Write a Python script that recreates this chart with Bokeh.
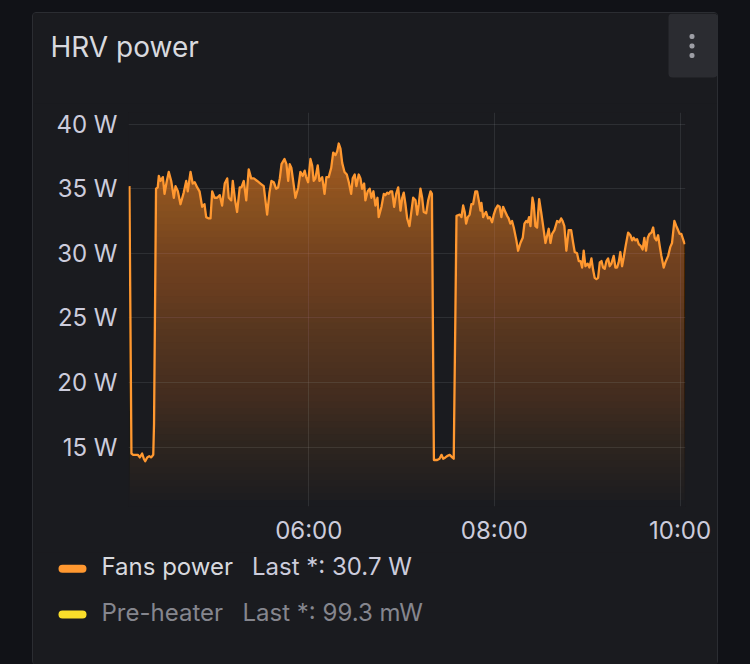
import numpy as np
import pandas as pd
from bokeh.plotting import figure
from bokeh.layouts import column
from bokeh.models import (FixedTicker, DatetimeTickFormatter, PrintfTickFormatter,
                          Label, BoxAnnotation, Range1d)
from bokeh.embed import file_html
from bokeh.resources import INLINE

# ---------------- data ----------------
BASE_DAY = "2024-03-10"
START = "04:00"
# minutes after 04:00
fans_minutes = [
    4.1, 5.4, 6.5, 8.0, 9.5, 10.8, 12.3, 13.4, 14.3, 15.6, 16.9, 18.2, 19.5, 20.0, 21.3,
    22.4, 23.1, 24.2, 25.7, 26.8, 28.1, 29.5, 31.1, 32.8, 33.9, 35.4, 37.1, 39.2, 40.8, 41.8,
    43.6, 45.0, 46.3, 47.9, 49.4, 51.1, 52.6, 53.7, 55.4, 56.5, 57.6, 59.1, 60.8, 62.5, 64.0,
    65.7, 67.3, 68.3, 69.9, 70.9, 72.4, 73.7, 75.4, 76.5, 78.0, 79.6, 81.2, 82.8, 84.5, 86.7,
    88.8, 90.9, 93.1, 94.6, 95.9, 97.4, 98.9, 100.2, 101.3, 102.4, 104.3, 105.6, 106.7, 107.7,
    108.8, 109.7, 111.4, 113.2, 114.6, 116.1, 117.4, 118.3, 119.6, 121.1, 122.2, 123.2, 124.3,
    125.8, 126.9, 128.7, 130.2, 131.4, 132.9, 134.5, 135.8, 137.3, 138.4, 139.4, 140.5, 141.6,
    143.1, 144.6, 145.9, 147.4, 148.4, 149.7, 150.8, 152.3, 153.4, 154.5, 155.8, 156.6, 158.1,
    159.4, 160.5, 161.8, 163.1, 164.4, 165.2, 167.0, 168.5, 169.6, 170.7, 171.7, 172.8, 173.9,
    175.2, 176.5, 177.8, 179.3, 180.4, 181.4, 182.5, 183.6, 185.1, 186.4, 187.5, 189.0, 190.1,
    191.1, 192.2, 193.3, 194.3, 195.9, 197.2, 198.7, 199.6, 200.9, 203.0, 204.5, 205.8, 206.9,
    208.3, 209.4, 211.1, 212.7, 213.7, 215.5, 217.6, 218.7, 219.8, 220.8, 221.7, 222.8, 224.0,
    225.1, 226.2, 227.7, 228.8, 229.9, 231.0, 231.6, 232.7, 233.5, 234.6, 235.9, 237.0, 238.5,
    239.6, 240.7, 242.1, 243.4, 244.5, 245.6, 246.7, 248.2, 249.2, 250.3, 251.4, 252.5, 254.2,
    255.3, 256.8, 258.3, 259.4, 260.5, 261.5, 262.4, 263.3, 264.6, 265.4, 266.5, 267.6, 268.9,
    270.2, 271.5, 273.0, 275.1, 276.2, 277.3, 278.8, 280.5, 282.0, 283.1, 284.1, 285.2, 286.5,
    288.0, 289.6, 290.9, 291.9, 293.4, 294.5, 295.6, 296.7, 297.7, 298.8, 300.3, 301.4, 302.7,
    303.8, 304.8, 305.9, 307.0, 308.1, 309.2, 310.2, 311.3, 312.4, 313.5, 314.5, 315.6, 317.1,
    318.2, 319.3, 320.3, 321.4, 322.5, 323.6, 324.7, 326.4, 327.9, 329.0, 330.0, 331.1, 332.2,
    333.3, 334.4, 335.8, 336.9, 338.0, 339.1, 340.2, 341.5, 342.6, 343.6, 344.7, 345.8, 346.8,
    347.9, 349.4, 350.5, 352.3, 353.7, 354.8, 356.3, 357.6, 358.7, 359.7, 360.8, 361.9, 363.0,
]
fans_watts = [
    35.2, 14.5, 14.4, 14.4, 14.4, 14.2, 14.5, 14.1, 13.9, 14.2, 14.3, 14.2, 14.4, 16.8, 35.0,
    35.1, 36.0, 35.6, 35.9, 34.6, 35.5, 36.3, 35.6, 34.3, 35.2, 34.8, 33.8, 34.7, 35.6, 34.8,
    36.3, 35.4, 35.5, 35.1, 34.8, 33.6, 33.8, 32.8, 32.7, 32.7, 34.8, 34.3, 34.3, 34.5, 33.7,
    35.4, 35.8, 34.3, 34.1, 35.6, 34.1, 33.2, 35.1, 35.1, 35.6, 34.1, 36.5, 35.8, 35.8, 35.6,
    35.4, 35.2, 33.0, 34.7, 35.6, 35.5, 35.0, 35.1, 35.8, 36.9, 37.3, 36.9, 35.6, 36.9,
    36.6, 35.8, 34.3, 35.1, 36.3, 36.0, 36.4, 35.9, 35.5, 37.3, 36.8, 35.6, 35.8,
    36.8, 35.6, 35.9, 34.6, 35.9, 35.9, 36.6, 37.8, 37.6, 37.9, 38.5, 38.1, 37.0,
    36.3, 36.1, 35.5, 34.6, 35.8, 36.1, 35.2, 36.1, 35.8, 35.0, 35.4, 34.1, 34.8,
    35.0, 34.3, 34.8, 33.7, 34.3, 32.8, 33.6, 34.6, 34.5, 34.7, 34.6, 34.8, 34.8,
    33.6, 34.6, 35.1, 33.3, 34.3, 34.7, 33.8, 32.7, 32.1, 33.3, 34.3, 34.1, 33.0,
    33.8, 35.0, 34.3, 33.2, 33.1, 34.1, 34.8, 34.6, 14.0, 14.0, 14.1, 14.4, 14.1,
    14.2, 14.3, 14.4, 14.2, 14.1, 32.9, 33.0, 32.8, 33.7, 33.2, 32.3, 32.8, 33.0,
    33.8, 33.8, 34.8, 34.8, 34.1, 33.3, 33.9, 32.8, 33.0, 33.2, 32.7, 32.8, 32.4,
    33.0, 33.4, 33.7, 33.6, 32.8, 33.6, 33.3, 32.9, 32.7, 32.3, 32.5, 32.0, 31.0,
    30.2, 30.8, 31.2, 32.3, 32.5, 32.4, 32.8, 32.1, 34.3, 33.8, 32.1, 32.0, 34.2,
    33.2, 32.1, 30.8, 31.9, 30.8, 31.5, 31.8, 32.5, 32.4, 32.7, 32.5, 32.1, 30.2,
    31.8, 31.8, 30.8, 30.1, 30.0, 29.4, 29.4, 28.9, 30.2, 29.0, 29.2, 28.9, 29.6,
    28.7, 28.1, 28.0, 28.1, 29.3, 29.4, 28.9, 28.8, 29.4, 29.6, 29.0, 29.2, 29.8,
    28.9, 28.9, 29.3, 30.1, 29.0, 29.7, 30.5, 31.6, 31.4, 31.0, 31.2, 31.0, 31.1,
    30.7, 30.6, 30.3, 31.2, 30.2, 31.2, 31.5, 31.6, 32.0, 31.2, 31.0, 31.4, 30.6,
    29.8, 28.9, 29.3, 29.8, 30.5, 30.8, 32.5, 32.1, 31.8, 31.5, 31.5, 31.1, 30.7,
]
preheater_last_mw = 99.3

series_names = ["Fans power", "Pre-heater"]
series_colors = ["#FF9830", "#FADE2A"]
y_ticks = [15, 20, 25, 30, 35, 40]
x_ticks = ["06:00", "08:00", "10:00"]
x_window = ("04:03:30", "10:03:30")
y_window = (10.4, 40.9)
title_text = "HRV power"

# ---------------- style ----------------
OUTER_BG = "#111217"
PANEL_BG = "#1a1b1f"
PANEL_BORDER = "#2b2d32"
TEXT = "#ccccdc"
TEXT_BRIGHT = "#d8d9de"
TEXT_DIM = "#85868e"
GRID = "#cccedc"
FONT = "Inter"
PANEL_W = 684
BASE_SHIFT = 0.4  # Label baseline correction, in em


def ts(hm):
    return pd.Timestamp(f"{BASE_DAY} {hm}")


def plain_fig(w, h):
    f = figure(width=w, height=h, output_backend="svg", toolbar_location=None,
               x_range=Range1d(0, w), y_range=Range1d(h, 0),
               x_axis_location=None, y_axis_location=None,
               min_border=0, background_fill_color=PANEL_BG,
               border_fill_color=PANEL_BG, outline_line_color=None)
    f.grid.visible = False
    return f


def box(l, r, t_, b, color, radius=0):
    return BoxAnnotation(left=l, right=r, top=t_, bottom=b, fill_color=color,
                         fill_alpha=1, line_color=None, border_radius=radius)


def text(x, baseline, s, size, color):
    return Label(x=x, y=baseline - BASE_SHIFT * size, text=s, text_font=FONT,
                 text_font_size=f"{size}px", text_color=color,
                 text_baseline="alphabetic")


# ---------------- header: title + menu button ----------------
HEAD_H = 90
head = plain_fig(PANEL_W, HEAD_H)
head.add_layout(text(17, 45, title_text, 28, TEXT_BRIGHT))
head.add_layout(box(635, 684, 0, 64, "#2b2c31", 4))
for dy in (23, 32.5, 42):
    head.add_layout(box(656, 661, dy - 2.5, dy + 2.5, "#9d9ea5", 2))

# ---------------- chart ----------------
t = ts(START) + pd.to_timedelta(np.array(fans_minutes), unit="m")
v = np.array(fans_watts)

CH_H = 449
p = figure(width=PANEL_W, height=CH_H, x_axis_type="datetime",
           output_backend="svg", toolbar_location=None,
           x_range=Range1d(ts(x_window[0]), ts(x_window[1])),
           y_range=Range1d(*y_window),
           min_border_left=95, min_border_right=32,
           min_border_top=9, min_border_bottom=46,
           background_fill_color=PANEL_BG, border_fill_color=PANEL_BG,
           outline_line_color=None)

# gradient fill (opacity rising with height), built from stacked translucent layers
lo, hi = y_window
N = 60
TMAX = 0.72
prev = 0.0
for i in range(1, N):
    a = lo + (hi - lo) * i / N
    T = TMAX * (i + 0.5) / N
    alpha = 1 - (1 - T) / (1 - prev)
    prev = T
    p.varea(x=t, y1=a, y2=np.maximum(v, a), fill_color=series_colors[0],
            fill_alpha=alpha)

p.line(t, v, line_color=series_colors[0], line_width=2.3, line_join="round")

p.xaxis.ticker = FixedTicker(ticks=[ts(s).value / 1e6 for s in x_ticks])
p.xaxis.formatter = DatetimeTickFormatter(minutes="%H:%M", hourmin="%H:%M",
                                          hours="%H:%M", days="%H:%M")
p.yaxis.ticker = FixedTicker(ticks=y_ticks)
p.yaxis.formatter = PrintfTickFormatter(format="%d W")
for ax in (p.xaxis[0], p.yaxis[0]):
    ax.axis_line_color = None
    ax.major_tick_line_color = None
    ax.minor_tick_line_color = None
    ax.major_tick_out = 0
    ax.major_tick_in = 0
    ax.minor_tick_out = 0
    ax.major_label_text_font = FONT
    ax.major_label_text_font_size = "24px"
    ax.major_label_text_color = TEXT
p.yaxis.major_label_standoff = 11
p.xaxis.major_label_standoff = 9
for g in (p.xgrid[0], p.ygrid[0]):
    g.grid_line_color = GRID
    g.grid_line_alpha = 0.11
    g.grid_line_width = 1

# ---------------- legend ----------------
LEG_H = 112
leg = plain_fig(PANEL_W, LEG_H)
last_texts = [f"Last *: {fans_watts[-1]:.1f} W", f"Last *: {preheater_last_mw:.1f} mW"]
rows = [(16.3, 24, TEXT_BRIGHT, TEXT, 218.5), (62, 69.7, TEXT_DIM, TEXT_DIM, 209)]
for (cy, base, c1, c2, x2), name, col, last in zip(rows, series_names, series_colors, last_texts):
    leg.add_layout(box(25, 53, cy - 4, cy + 4, col, 4))
    leg.add_layout(text(68, base, name, 24, c1))
    leg.add_layout(text(x2, base, last, 24, c2))

layout = column(column(head), column(p), column(leg), spacing=0, margin=(12, 0, 0, 32),
                styles={"background-color": PANEL_BG, "border": "1px solid " + PANEL_BORDER,
                        "border-radius": "4px"})

html = file_html(layout, INLINE, title=title_text)
html = html.replace("</head>", "<style>html,body{margin:0;padding:0;background:%s;"
                    "overflow:hidden;}</style></head>" % OUTER_BG, 1)
open("out.html", "w").write(html)
